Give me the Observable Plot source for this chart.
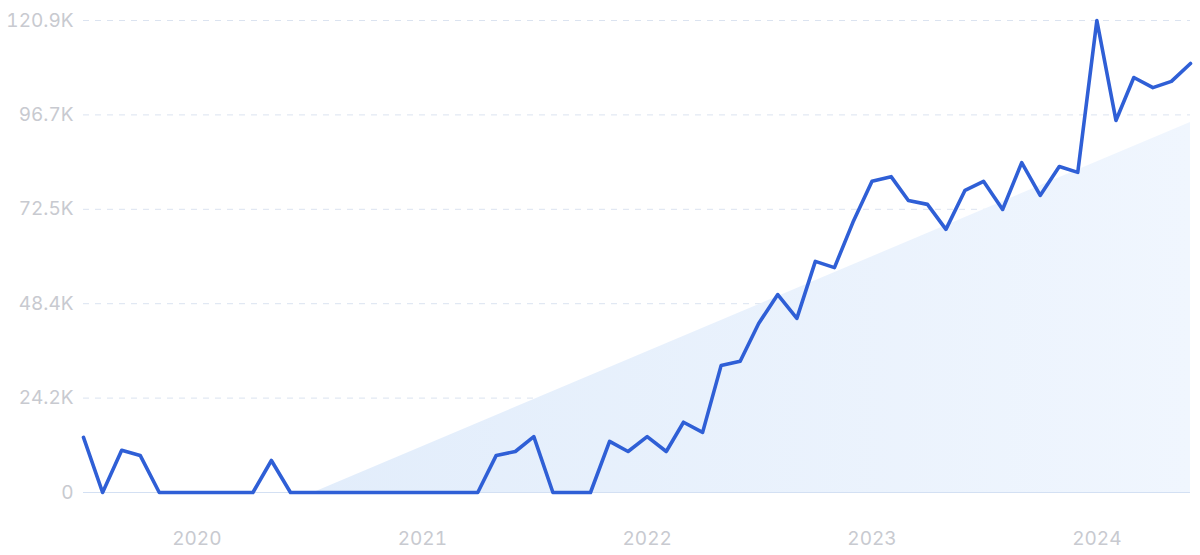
<!DOCTYPE html>
<html>
<head>
<meta charset="utf-8">
<script src="https://cdn.jsdelivr.net/npm/d3@7"></script>
<script src="https://cdn.jsdelivr.net/npm/@observablehq/plot@0.6"></script>
<style>
  html, body { margin: 0; padding: 0; background: #ffffff; }
  #chart { width: 1200px; height: 555px; }
</style>
</head>
<body>
<div id="chart"></div>
<script>
// Monthly categories (Jul 2019 – Jun 2024)
const months = [
  "2019-07","2019-08","2019-09","2019-10","2019-11","2019-12",
  "2020-01","2020-02","2020-03","2020-04","2020-05","2020-06",
  "2020-07","2020-08","2020-09","2020-10","2020-11","2020-12",
  "2021-01","2021-02","2021-03","2021-04","2021-05","2021-06",
  "2021-07","2021-08","2021-09","2021-10","2021-11","2021-12",
  "2022-01","2022-02","2022-03","2022-04","2022-05","2022-06",
  "2022-07","2022-08","2022-09","2022-10","2022-11","2022-12",
  "2023-01","2023-02","2023-03","2023-04","2023-05","2023-06",
  "2023-07","2023-08","2023-09","2023-10","2023-11","2023-12",
  "2024-01","2024-02","2024-03","2024-04","2024-05","2024-06"
];
// Search volume (thousands)
const volumeK = [
  14.1, 0, 10.8, 9.5, 0, 0,
  0, 0, 0, 0, 8.2, 0,
  0, 0, 0, 0, 0, 0,
  0, 0, 0, 0, 9.5, 10.5,
  14.3, 0, 0, 0, 13.1, 10.5,
  14.3, 10.5, 18.0, 15.4, 32.5, 33.6,
  43.3, 50.7, 44.6, 59.2, 57.6, 69.2,
  79.7, 80.9, 74.8, 73.8, 67.4, 77.4,
  79.7, 72.5, 84.5, 76.1, 83.5, 82.0,
  120.9, 95.3, 106.3, 103.7, 105.3, 109.9
];
// Trend wedge endpoints
const trendDates = ["2020-07-09", "2024-06-01"];
const trendK = [0, 94.8];
// Axis ticks
const yTicksK = [0, 24.18, 48.36, 72.54, 96.72, 120.9];
const yTickLabels = ["0", "24.2K", "48.4K", "72.5K", "96.7K", "120.9K"];
const xTickYears = ["2020-01-01", "2021-01-01", "2022-01-01", "2023-01-01", "2024-01-01"];

const parseMonth = d3.utcParse("%Y-%m");
const parseDay = d3.utcParse("%Y-%m-%d");
const data = months.map((m, i) => ({date: parseMonth(m), value: volumeK[i] * 1000}));
const trend = trendDates.map((d, i) => ({date: parseDay(d), value: trendK[i] * 1000}));
const yTicks = yTicksK.map(v => v * 1000);
const yLabelMap = new Map(yTicks.map((v, i) => [v, yTickLabels[i]]));
const xTicks = xTickYears.map(parseDay);

const defs = () => {
  const g = d3.create("svg:defs");
  const lg = g.append("linearGradient")
    .attr("id", "trendGrad")
    .attr("x1", "0").attr("y1", "0").attr("x2", "1").attr("y2", "0");
  lg.append("stop").attr("offset", "0%").attr("stop-color", "#e2edfb");
  lg.append("stop").attr("offset", "100%").attr("stop-color", "#f0f6fe");
  return g.node();
};

const chart = Plot.plot({
  width: 1200,
  height: 555,
  marginLeft: 83,
  marginRight: 10,
  marginTop: 20,
  marginBottom: 63,
  style: {fontFamily: "Inter, 'Open Sans', sans-serif", background: "#ffffff", color: "#c6c8ce"},
  x: {type: "utc", domain: [data[0].date, data[data.length - 1].date]},
  y: {domain: [0, 120900]},
  marks: [
    defs,
    Plot.ruleY(yTicks.slice(1), {stroke: "#dbe3f0", strokeWidth: 1, strokeDasharray: "6,6"}),
    Plot.areaY(trend, {x: "date", y: "value", fill: "url(#trendGrad)"}),
    Plot.ruleY([0], {stroke: "#d3e0f3", strokeWidth: 1.2}),
    Plot.lineY(data, {x: "date", y: "value", stroke: "#2f5fd6", strokeWidth: 3.6, strokeLinejoin: "round", strokeLinecap: "round"}),
    Plot.axisY(yTicks, {tickSize: 0, tickPadding: 10, fontSize: 19, label: null, tickFormat: d => yLabelMap.get(d), fill: "#c8cad0"}),
    Plot.axisX(xTicks, {tickSize: 0, tickPadding: 39, fontSize: 19, label: null, tickFormat: d3.utcFormat("%Y"), fill: "#c8cad0"})
  ]
});
document.getElementById("chart").appendChild(chart);
</script>
</body>
</html>
